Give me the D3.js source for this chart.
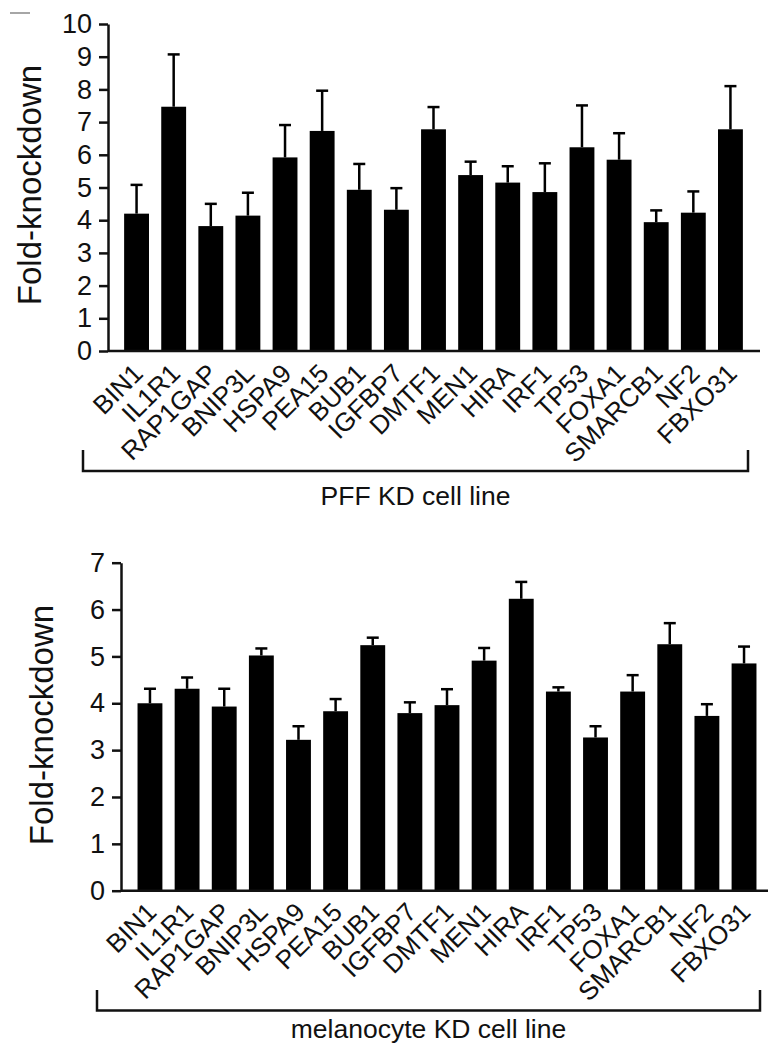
<!DOCTYPE html>
<html>
<head>
<meta charset="utf-8">
<script src="https://cdn.jsdelivr.net/npm/d3@7"></script>
<style>
  body { margin:0; background:#fff; }
  text { font-family: "Liberation Sans", Arial, sans-serif; fill:#111; }
</style>
</head>
<body>
<div id="chart-area"></div>
<script>
var genes = ["BIN1","IL1R1","RAP1GAP","BNIP3L","HSPA9","PEA15","BUB1","IGFBP7","DMTF1",
             "MEN1","HIRA","IRF1","TP53","FOXA1","SMARCB1","NF2","FBXO31"];

// PFF KD cell line
var pffMean = [4.2, 7.47, 3.82, 4.14, 5.92, 6.73, 4.93, 4.32, 6.78, 5.38, 5.15, 4.86, 6.23, 5.85, 3.94, 4.23, 6.78];
var pffErr  = [0.88, 1.6, 0.68, 0.7, 0.99, 1.23, 0.79, 0.66, 0.68, 0.41, 0.5, 0.88, 1.28, 0.81, 0.36, 0.65, 1.32];
var pffTicks = [0,1,2,3,4,5,6,7,8,9,10];

// melanocyte KD cell line
var melMean = [4.0, 4.31, 3.93, 5.02, 3.22, 3.83, 5.24, 3.79, 3.96, 4.91, 6.23, 4.25, 3.27, 4.25, 5.26, 3.73, 4.85];
var melErr  = [0.31, 0.24, 0.38, 0.15, 0.29, 0.26, 0.16, 0.23, 0.34, 0.27, 0.36, 0.09, 0.24, 0.35, 0.45, 0.25, 0.36];
var melTicks = [0,1,2,3,4,5,6,7];

var svg = d3.select("#chart-area")
        .append("svg")
                .attr("width", 768)
                .attr("height", 1052);

// small stray mark in the top-left corner of the original
svg.append("line")
        .attr("x1", 10).attr("x2", 30).attr("y1", 13).attr("y2", 13)
        .attr("stroke", "#888").attr("stroke-width", 1.5);

function drawPanel(opt) {
        var g = svg.append("g");

        var x = d3.scaleBand()
                .domain(genes)
                .range(opt.band)
                .paddingInner(0.33)
                .paddingOuter(0.165);

        var y = d3.scaleLinear()
                .domain([0, d3.max(opt.ticks)])
                .range([opt.y0, opt.yTop]);

        var data = genes.map((name, i) => ({ name: name, mean: opt.mean[i], err: opt.err[i] }));

        // bars
        g.selectAll("rect.bar")
                .data(data)
                .enter()
                .append("rect")
                .attr("class", "bar")
                .attr("x", d => x(d.name))
                .attr("y", d => y(d.mean))
                .attr("width", x.bandwidth())
                .attr("height", d => y(0) - y(d.mean))
                .attr("fill", "#000");

        // error bars (upper only)
        var eb = g.selectAll("g.err")
                .data(data)
                .enter()
                .append("g")
                .attr("class", "err")
                .attr("transform", d => "translate(" + (x(d.name) + x.bandwidth() / 2) + ",0)");
        eb.append("line")
                .attr("x1", 0).attr("x2", 0)
                .attr("y1", d => y(d.mean))
                .attr("y2", d => y(d.mean + d.err))
                .attr("stroke", "#000").attr("stroke-width", 2.5);
        eb.append("line")
                .attr("x1", -6).attr("x2", 6)
                .attr("y1", d => y(d.mean + d.err))
                .attr("y2", d => y(d.mean + d.err))
                .attr("stroke", "#000").attr("stroke-width", 2.5);

        // y axis
        var yAxisCall = d3.axisLeft(y)
                .tickValues(opt.ticks)
                .tickFormat(d3.format("d"))
                .tickSize(9)
                .tickSizeOuter(0)
                .tickPadding(7);
        var ya = g.append("g")
                .attr("class", "y-axis")
                .attr("transform", "translate(" + opt.axisX + ",0)")
                .call(yAxisCall);
        ya.select(".domain").attr("stroke-width", 2.5).attr("stroke", "#111");
        ya.selectAll(".tick line").attr("stroke-width", 2.5).attr("stroke", "#111");
        ya.selectAll(".tick text")
                .attr("font-size", "27px")
                .style("font-family", "'Liberation Sans', Arial, sans-serif")
                .attr("fill", "#111");

        // x axis labels
        var xAxisCall = d3.axisBottom(x).tickSize(0).tickPadding(0);
        var xa = g.append("g")
                .attr("class", "x-axis")
                .attr("transform", "translate(0," + opt.y0 + ")")
                .call(xAxisCall);
        xa.select(".domain").remove();
        xa.selectAll(".tick text")
                .attr("y", 0)
                .attr("dy", 0)
                .attr("text-anchor", "end")
                .attr("font-size", "26px")
                .style("font-family", "'Liberation Sans', Arial, sans-serif")
                .attr("fill", "#111")
                .attr("transform", "translate(8," + opt.labelDy + ") rotate(-45)");

        // x axis baseline
        g.append("line")
                .attr("x1", opt.axisX).attr("x2", opt.axisEnd)
                .attr("y1", y(0)).attr("y2", y(0))
                .attr("stroke", "#111").attr("stroke-width", 2.5);

        // y axis title
        g.append("text")
                .attr("transform", "translate(" + opt.titleX + "," + opt.titleY + ") rotate(-90)")
                .attr("text-anchor", "middle")
                .attr("dy", "0.35em")
                .attr("font-size", "33px")
                .text("Fold-knockdown");

        // bracket under labels
        g.append("path")
                .attr("d", "M" + opt.bracket[0] + "," + opt.bracketTop +
                           "V" + opt.bracketBottom +
                           "H" + opt.bracket[1] +
                           "V" + opt.bracketTop)
                .attr("fill", "none")
                .attr("stroke", "#111")
                .attr("stroke-width", 2.5);

        g.append("text")
                .attr("x", (opt.bracket[0] + opt.bracket[1]) / 2)
                .attr("y", opt.captionY)
                .attr("text-anchor", "middle")
                .attr("font-size", "26.5px")
                .text(opt.caption);
}

drawPanel({
        mean: pffMean, err: pffErr, ticks: pffTicks,
        band: [118, 749], y0: 351, yTop: 24,
        axisX: 108, axisEnd: 760, labelDy: 24,
        titleX: 29, titleY: 185,
        bracket: [83, 748], bracketTop: 450, bracketBottom: 471,
        captionY: 505, caption: "PFF KD cell line"
});

drawPanel({
        mean: melMean, err: melErr, ticks: melTicks,
        band: [131.4, 762.6], y0: 890.7, yTop: 562.7,
        axisX: 121, axisEnd: 768, labelDy: 23,
        titleX: 41, titleY: 725,
        bracket: [97, 760], bracketTop: 990, bracketBottom: 1010.5,
        captionY: 1038, caption: "melanocyte KD cell line"
});
</script>
</body>
</html>
